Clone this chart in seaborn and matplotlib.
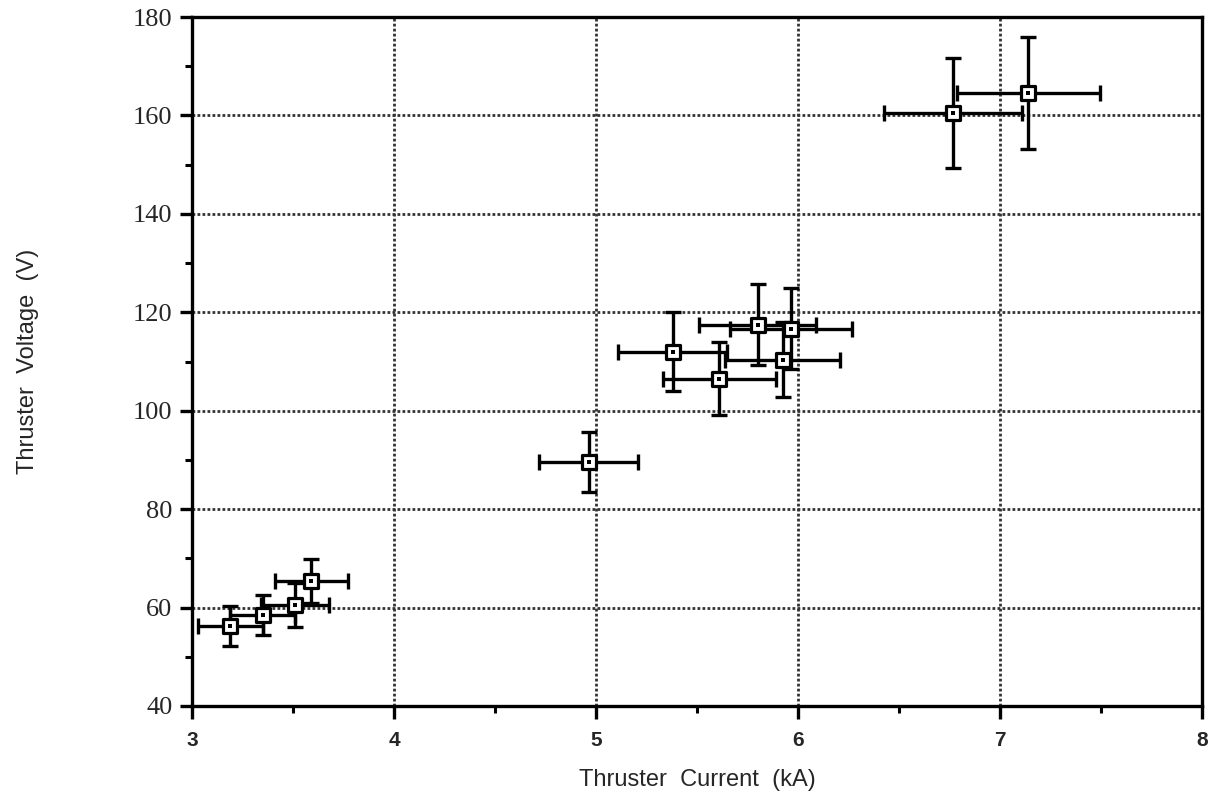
import matplotlib
matplotlib.use("Agg")
import matplotlib.pyplot as plt
from matplotlib.ticker import MultipleLocator
import seaborn as sns
import pandas as pd

current_kA = [3.19, 3.35, 3.51, 3.59, 4.965, 5.38, 5.61, 5.80, 5.965, 5.925, 6.767, 7.14]
voltage_V = [56.3, 58.5, 60.5, 65.4, 89.5, 112.0, 106.5, 117.5, 116.7, 110.4, 160.5, 164.5]
current_err = [0.16, 0.16, 0.17, 0.18, 0.245, 0.27, 0.28, 0.29, 0.30, 0.285, 0.34, 0.355]
voltage_err = [4.1, 4.0, 4.5, 4.4, 6.1, 8.0, 7.4, 8.2, 8.3, 7.7, 11.2, 11.4]

df = pd.DataFrame({"I": current_kA, "V": voltage_V, "dI": current_err, "dV": voltage_err})

sns.set_style("white")
fig = plt.figure(figsize=(12.1, 8), dpi=100)
ax = fig.add_axes([0.1587, 0.1175, 0.8347, 0.86125])

ax.errorbar(df["I"], df["V"], xerr=df["dI"], yerr=df["dV"], fmt="none",
            ecolor="black", elinewidth=2.4, capsize=6, capthick=2.4, zorder=3)
sns.scatterplot(data=df, x="I", y="V", marker="s", s=110, color="white",
                edgecolor="black", linewidth=2.3, ax=ax, zorder=4)
sns.scatterplot(data=df, x="I", y="V", marker="s", s=6, color="black",
                edgecolor="black", linewidth=0, ax=ax, zorder=5)

ax.set_xlim(3, 8)
ax.set_ylim(40, 180)
ax.xaxis.set_major_locator(MultipleLocator(1))
ax.xaxis.set_minor_locator(MultipleLocator(0.5))
ax.yaxis.set_major_locator(MultipleLocator(20))
ax.yaxis.set_minor_locator(MultipleLocator(10))

ax.grid(True, which="major", linestyle=(0, (1, 0.8)), color="#333333", linewidth=2.0)
ax.set_axisbelow(True)

for sp in ax.spines.values():
    sp.set_visible(True)
    sp.set_color("black")
    sp.set_linewidth(2.4)

ax.tick_params(axis="both", which="major", direction="out", length=9, width=2.4,
               color="black", bottom=True, left=True, top=False, right=False)
ax.tick_params(axis="both", which="minor", direction="out", length=5, width=2.2,
               color="black", bottom=True, left=True, top=False, right=False)
ax.tick_params(axis="y", which="major", pad=5)
ax.tick_params(axis="x", which="major", pad=9)

for lab in ax.get_yticklabels():
    lab.set_fontfamily("Liberation Serif")
    lab.set_fontsize(19)
for lab in ax.get_xticklabels():
    lab.set_fontfamily("Liberation Sans")
    lab.set_fontweight("bold")
    lab.set_fontsize(15)

ax.set_xlabel("Thruster  Current  (kA)", fontsize=17, family="Liberation Sans", labelpad=14)
ax.set_ylabel("Thruster  Voltage  (V)", fontsize=17, family="Liberation Sans", labelpad=68)

fig.savefig("out.png", dpi=100)
